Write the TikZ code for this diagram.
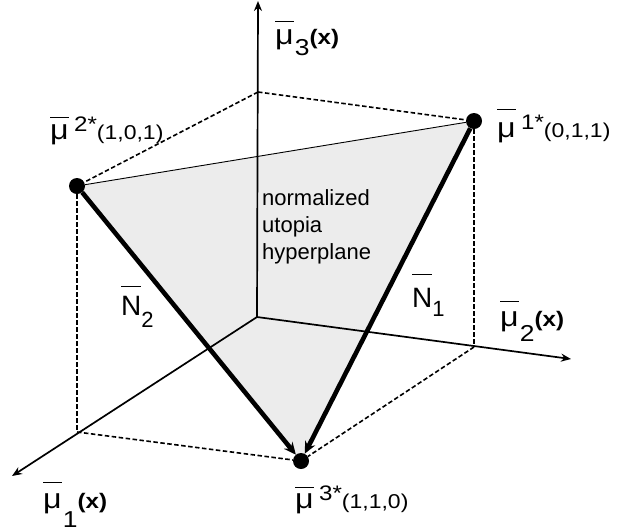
\documentclass[tikz,border=0pt]{standalone}
\usepackage{fontspec}
\setmainfont{Liberation Sans}
\usetikzlibrary{arrows.meta, backgrounds}
% letter with a bar set #2 above the baseline
\newcommand{\barred}[2]{\setbox0\hbox{#1}\rlap{\raisebox{#2}{\rule{\wd0}{1.4pt}}}\box0}
% axis label: sub, bar height, sub drop
\newcommand{\axlabel}[3]{\scalebox{1.15}[1]{\fontsize{28}{28}\selectfont\barred{μ}{#2}\kern1pt\raisebox{-#3}{\fontsize{23}{23}\selectfont#1}\fontsize{21}{21}\selectfont\textbf{(x)}}}
% point label: sup, sub, bar height
\newcommand{\ptlabel}[3]{\scalebox{1.15}[1]{\fontsize{28}{28}\selectfont\barred{μ}{#3}\,\raisebox{8pt}{\fontsize{21}{21}\selectfont#1}\fontsize{20}{20}\selectfont#2}}
% normal label: sub, bar height, sub drop
\newcommand{\nlabel}[3]{\fontsize{28}{28}\selectfont\barred{N}{#2}\raisebox{-#3}{\fontsize{22}{22}\selectfont#1}}

\begin{document}
\begin{tikzpicture}[
    x=1pt, y=-1pt,
    >={Stealth[length=10pt, width=8pt]},
    axis/.style={->, line width=1.7pt},
    guide/.style={line width=1.6pt, dash pattern=on 4.5pt off 2.5pt},
    normal/.style={-{Stealth[length=12pt, width=11pt]}, line width=4.6pt},
    anchorpt/.style={circle, fill=black, inner sep=0pt, minimum size=16pt},
    lab/.style={anchor=base west, inner sep=0pt},
]
    \useasboundingbox (0,0) rectangle (617,531);
    % axes and unit points
    \coordinate (o) at (257,317);
    \coordinate (e1) at (77,432);
    \coordinate (e2) at (474,347);
    \coordinate (e3) at (258,92);
    \coordinate (x1) at (12,476);
    \coordinate (x2) at (571,359);
    \coordinate (x3) at (258,1);
    % anchor points
    \node[anchorpt] (p1) at (474,121) {};
    \node[anchorpt] (p2) at (77,186) {};
    \node[anchorpt] (p3) at (301,461) {};
    \begin{scope}[on background layer]
        \fill[gray!15] (p1.center) -- (p2.center) -- (p3.center) -- cycle;
    \end{scope}
    \draw[line width=0.9pt] (p2) -- (p1);
    % unit cube edges
    \draw[guide] (e3) -- (p2);
    \draw[guide] (e3) -- (p1);
    \draw[guide] (p2) -- (e1);
    \draw[guide] (p1) -- (e2);
    \draw[guide] (e1) -- (p3);
    \draw[guide] (e2) -- (p3);
    \draw[axis] (o) -- (x1);
    \draw[axis] (o) -- (x2);
    \draw[axis] (o) -- (x3);
    \draw[normal] (p2) -- (p3);
    \draw[normal] (p1) -- (p3);
    \node[anchor=north west, align=left, inner sep=0pt,
          font=\fontsize{22}{27}\selectfont] (plane) at (262,189)
          {normalized\\utopia\\hyperplane};
    \node[lab] (l3) at (275,44) {\axlabel{3}{22pt}{11pt}};
    \node[lab] (l2) at (500,326) {\axlabel{2}{24pt}{15pt}};
    \node[lab] (l1) at (43,508) {\axlabel{1}{25pt}{19pt}};
    \node[lab] (lp1) at (497,137) {\ptlabel{1*}{(0,1,1)}{27pt}};
    \node[lab] (lp2) at (50,139) {\ptlabel{2*}{(1,0,1)}{21pt}};
    \node[lab] (lp3) at (295,508) {\ptlabel{3*}{(1,1,0)}{20pt}};
    \node[lab] (n2) at (121,315) {\nlabel{2}{28pt}{12pt}};
    \node[lab] (n1) at (412,307) {\nlabel{1}{32pt}{9pt}};
\end{tikzpicture}
\end{document}
